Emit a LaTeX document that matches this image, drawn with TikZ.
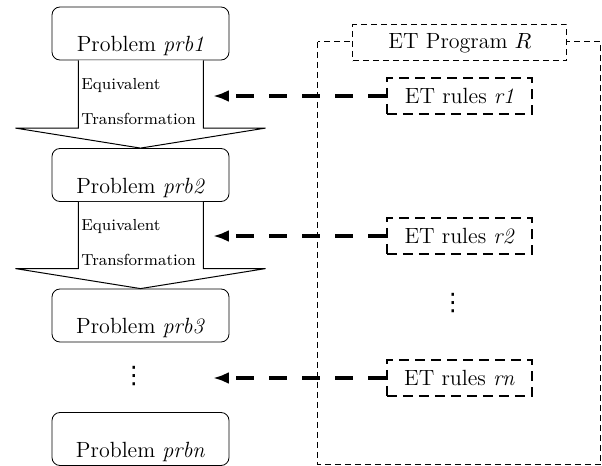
\documentclass[tikz,border=0pt]{standalone}
\usepackage{fontspec}
\newfontfamily\dotsfont{DejaVu Sans}
\usetikzlibrary{arrows.meta}

\begin{document}
\begin{tikzpicture}[x=0.5pt,y=-0.5pt]
\tikzset{
  prob/.style={draw,rounded corners=4pt,minimum width=88.5pt,minimum height=26.5pt,inner sep=0pt,
    text height=20.5pt,text depth=2pt,font=\fontsize{11}{13}\selectfont},
  eqarrow/.style={draw,fill=white,line width=0.5pt},
  eqtext/.style={anchor=north west,inner sep=0pt,align=left,font=\fontsize{8}{17.5}\selectfont},
  progbox/.style={draw,fill=white,line width=0.5pt,dash pattern=on 3pt off 2pt,minimum width=107pt,
    minimum height=18pt,inner sep=0pt,font=\fontsize{11}{13}\selectfont},
  rulebox/.style={draw,line width=1pt,dash pattern=on 5pt off 3pt,minimum width=72.5pt,
    minimum height=18pt,inner sep=0pt,font=\fontsize{11}{13}\selectfont},
  vdot/.style={inner sep=0pt,font=\dotsfont\fontsize{12}{14}\selectfont},
  apply/.style={line width=1.6pt,dash pattern=on 9pt off 7.5pt,-{Latex[length=8pt,width=6pt]}},
}
\useasboundingbox (0,0) rectangle (602,466);

% problems
\node[prob] (p1) at (140.5,33.5) {Problem \textit{prb1}};
\node[prob] (p2) at (140.5,175) {Problem \textit{prb2}};
\node[prob] (p3) at (140.5,315.5) {Problem \textit{prb3}};
\node[vdot] (pdots) at (134,376) {⋮};
\node[prob] (pn) at (140.5,439) {Problem \textit{prbn}};

% equivalent transformation steps
\draw[eqarrow] ([xshift=-31pt]p1.south) |- ([xshift=-62.5pt,yshift=10pt]p2.north) -- (p2.north)
  -- ([xshift=62.5pt,yshift=10pt]p2.north) -| ([xshift=31.5pt]p1.south);
\node[eqtext] (t1) at (81,78) {Equivalent\\Transformation};
\draw[eqarrow] ([xshift=-31pt]p2.south) |- ([xshift=-62.5pt,yshift=10pt]p3.north) -- (p3.north)
  -- ([xshift=62.5pt,yshift=10pt]p3.north) -| ([xshift=31.5pt]p2.south);
\node[eqtext] (t2) at (81,219) {Equivalent\\Transformation};

% ET program
\draw[line width=0.5pt,dash pattern=on 3pt off 2pt] (318,42) rectangle (601,465);
\node[progbox] (prog) at (460,43) {ET Program $R$};
\node[rulebox] (r1) at (459.5,96) {ET rules \textit{r1}};
\node[rulebox] (r2) at (459.5,236) {ET rules \textit{r2}};
\node[vdot] (rdots) at (453,303) {⋮};
\node[rulebox] (rn) at (459.5,378) {ET rules \textit{rn}};

% rules applied
\coordinate (a1) at (213,96);
\coordinate (a2) at (213,236);
\coordinate (an) at (213,378);
\draw[apply] (r1) -- (a1);
\draw[apply] (r2) -- (a2);
\draw[apply] (rn) -- (an);
\end{tikzpicture}
\end{document}
